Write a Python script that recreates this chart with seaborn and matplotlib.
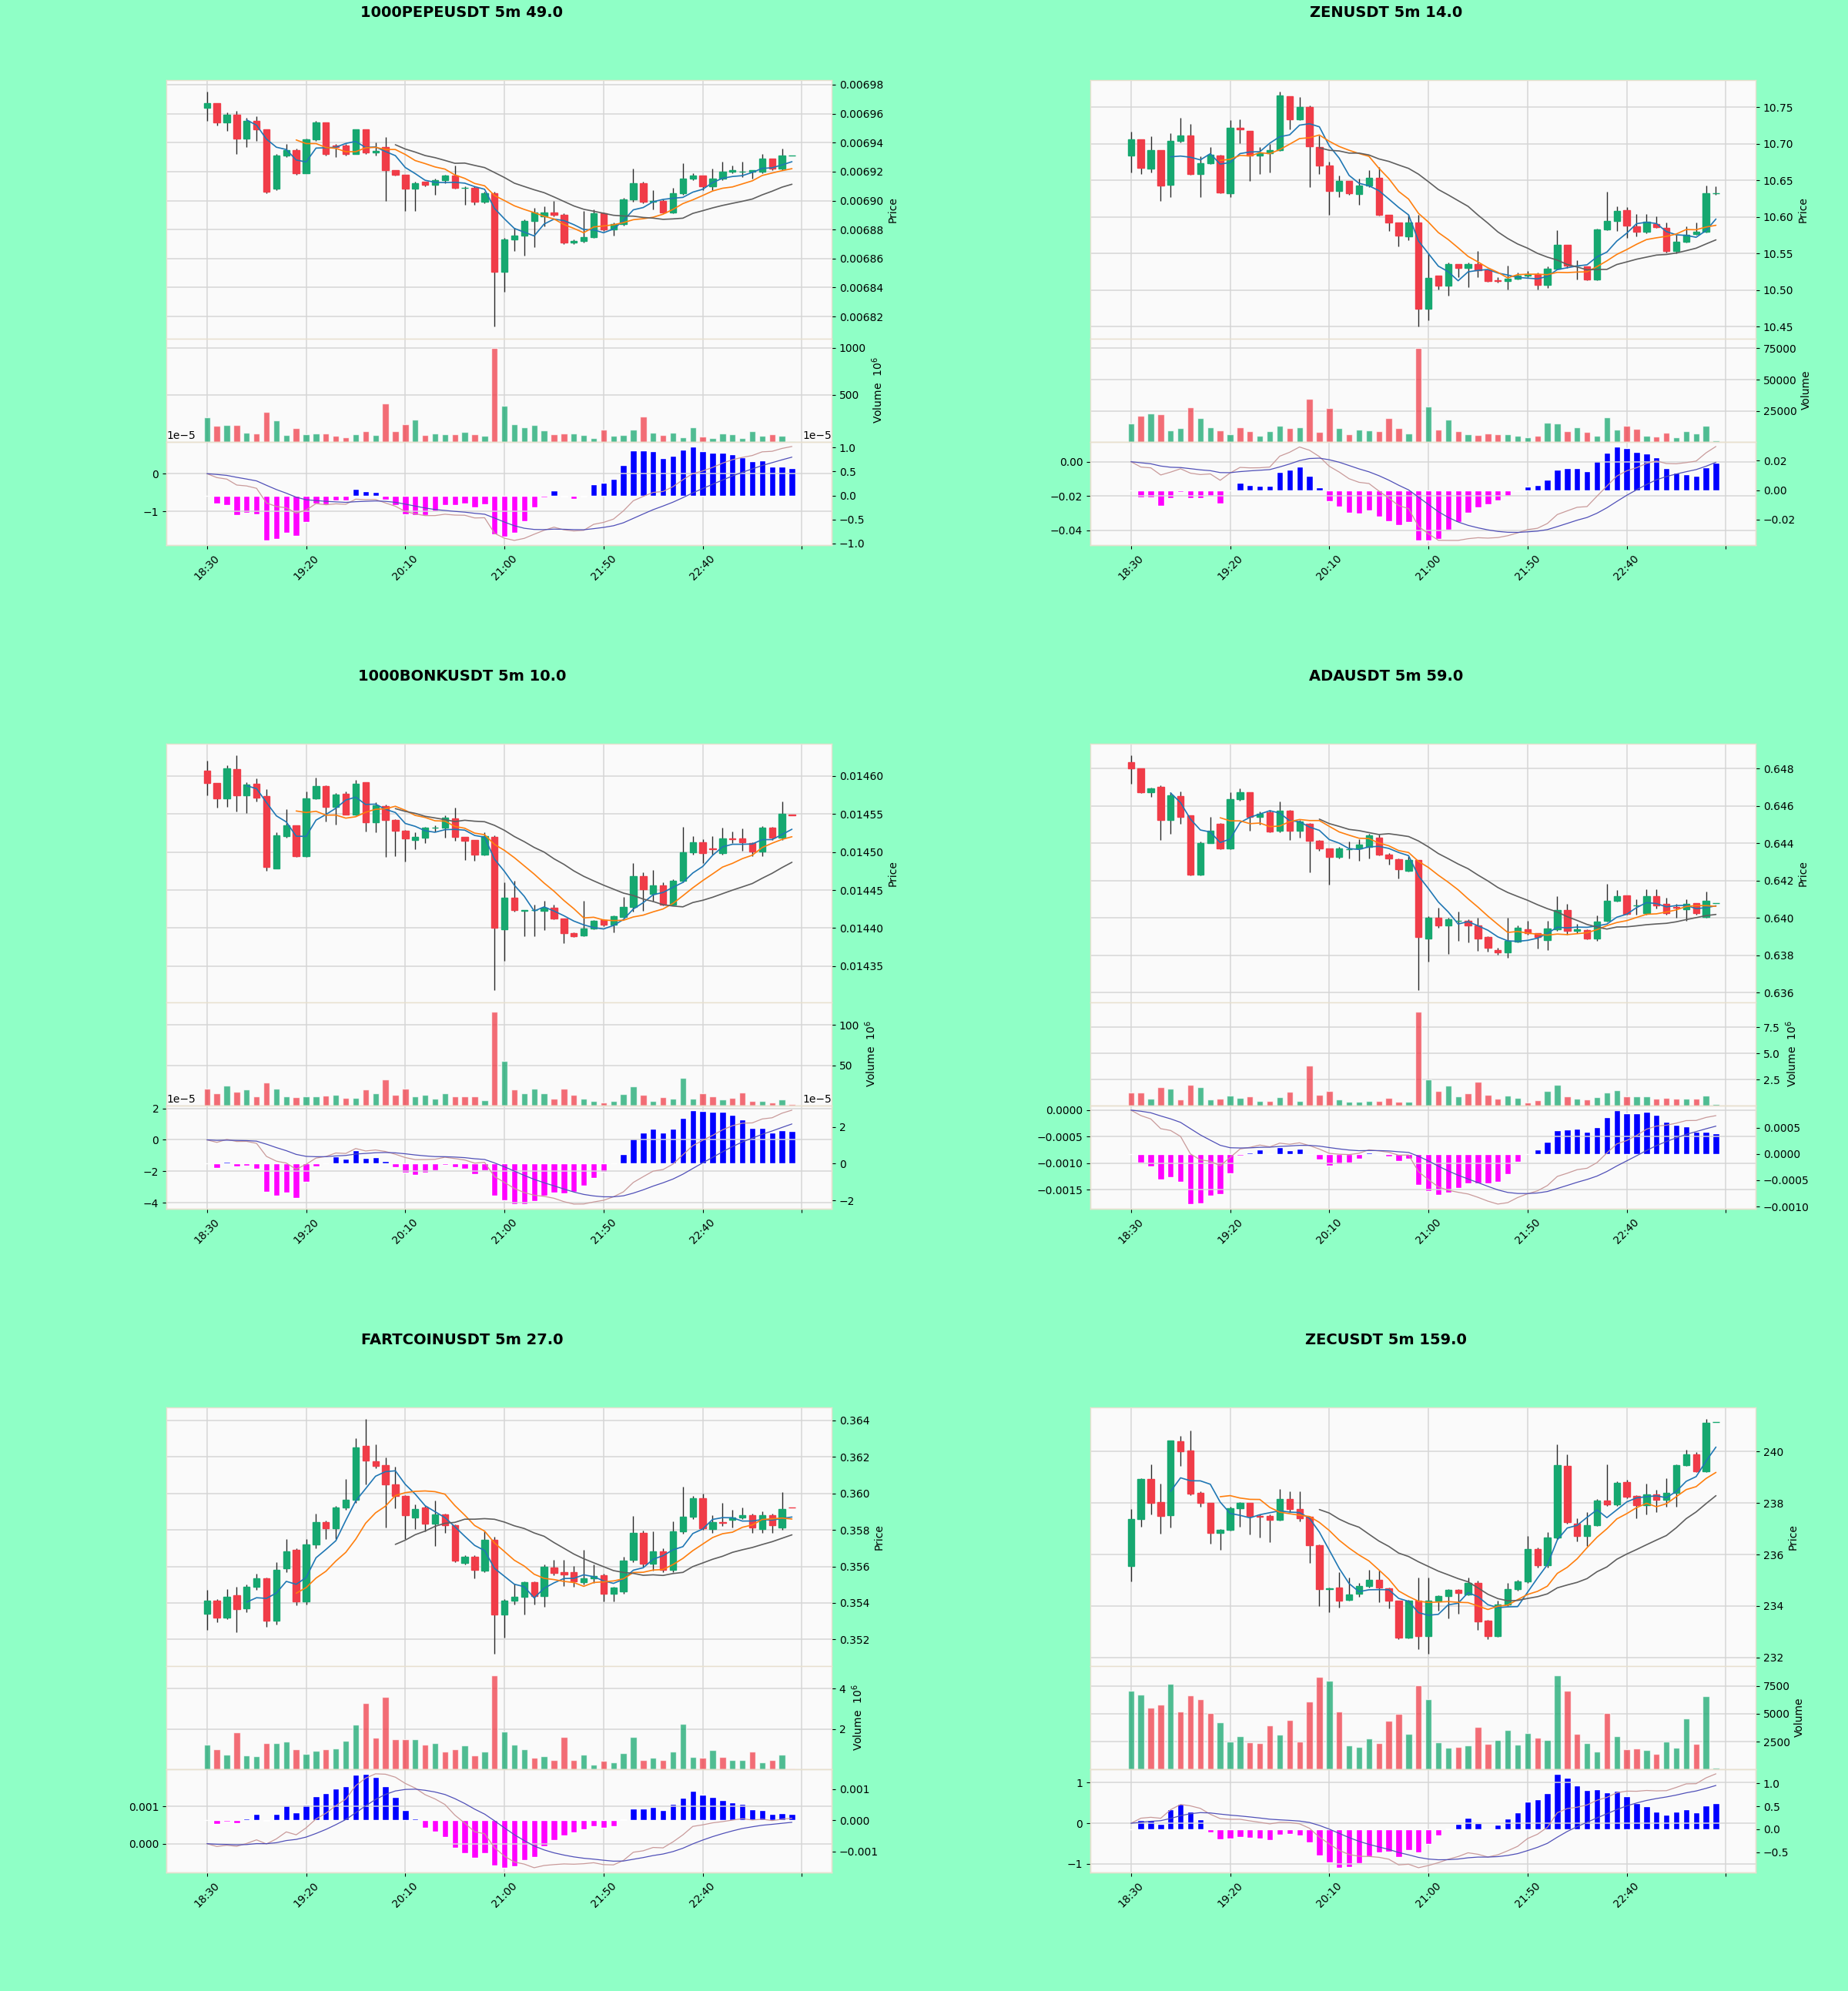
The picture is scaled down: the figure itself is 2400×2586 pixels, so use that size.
import numpy as np
import pandas as pd
import matplotlib
matplotlib.use("Agg")
import matplotlib.pyplot as plt
import seaborn as sns
from matplotlib.ticker import MultipleLocator

# ------------------------------------------------------------------ data
symbols = ["1000PEPEUSDT", "ZENUSDT", "1000BONKUSDT", "ADAUSDT", "FARTCOINUSDT", "ZECUSDT"]
scores = [49.0, 14.0, 10.0, 59.0, 27.0, 159.0]
tick_labels = ["18:30", "19:20", "20:10", "21:00", "21:50", "22:40", ""]

pepe_open = [0.006964, 0.006967, 0.006954, 0.006959, 0.006943, 0.006955, 0.006949, 0.006908, 0.006931, 0.006935,
             0.006919, 0.006942, 0.006954, 0.006938, 0.006938, 0.006932, 0.006949, 0.006933, 0.006937, 0.006921,
             0.006918, 0.006908, 0.006913, 0.006911, 0.006914, 0.006917, 0.006909, 0.006909, 0.006899, 0.006905,
             0.006851, 0.006873, 0.006876, 0.006886, 0.006889, 0.006892, 0.006890, 0.006871, 0.006872, 0.006875,
             0.006891, 0.006880, 0.006884, 0.006901, 0.006912, 0.006899, 0.006900, 0.006892, 0.006905, 0.006915,
             0.006917, 0.006910, 0.006915, 0.006920, 0.006920, 0.006920, 0.006920, 0.006929, 0.006922, 0.006931]
pepe_close = [0.006967, 0.006954, 0.006959, 0.006943, 0.006955, 0.006949, 0.006906, 0.006931, 0.006935, 0.006919,
              0.006942, 0.006954, 0.006932, 0.006937, 0.006932, 0.006949, 0.006933, 0.006934, 0.006921, 0.006918,
              0.006908, 0.006912, 0.006911, 0.006914, 0.006917, 0.006909, 0.006909, 0.006899, 0.006905, 0.006851,
              0.006873, 0.006876, 0.006886, 0.006892, 0.006892, 0.006890, 0.006871, 0.006872, 0.006875, 0.006891,
              0.006880, 0.006884, 0.006901, 0.006912, 0.006899, 0.006900, 0.006892, 0.006905, 0.006915, 0.006917,
              0.006910, 0.006915, 0.006920, 0.006921, 0.006920, 0.006921, 0.006929, 0.006922, 0.006931, 0.006931]
pepe_high = [0.006975, 0.006967, 0.006961, 0.006962, 0.006957, 0.006958, 0.006949, 0.006932, 0.006939, 0.006936,
             0.006943, 0.006955, 0.006954, 0.006939, 0.006939, 0.006949, 0.006949, 0.006940, 0.006944, 0.006921,
             0.006918, 0.006913, 0.006913, 0.006915, 0.006918, 0.006924, 0.006910, 0.006910, 0.006906, 0.006906,
             0.006874, 0.006881, 0.006887, 0.006895, 0.006896, 0.006900, 0.006891, 0.006873, 0.006893, 0.006894,
             0.006892, 0.006885, 0.006902, 0.006922, 0.006913, 0.006907, 0.006901, 0.006909, 0.006926, 0.006919,
             0.006917, 0.006922, 0.006927, 0.006924, 0.006927, 0.006921, 0.006932, 0.006929, 0.006936, 0.006931]
pepe_low = [0.006955, 0.006952, 0.006948, 0.006932, 0.006937, 0.006941, 0.006905, 0.006907, 0.006930, 0.006918,
            0.006919, 0.006941, 0.006931, 0.006930, 0.006931, 0.006932, 0.006932, 0.006931, 0.006900, 0.006917,
            0.006893, 0.006893, 0.006910, 0.006904, 0.006912, 0.006908, 0.006897, 0.006897, 0.006898, 0.006813,
            0.006837, 0.006865, 0.006862, 0.006868, 0.006882, 0.006889, 0.006870, 0.006870, 0.006871, 0.006874,
            0.006879, 0.006876, 0.006883, 0.006899, 0.006898, 0.006894, 0.006891, 0.006891, 0.006904, 0.006914,
            0.006907, 0.006907, 0.006914, 0.006919, 0.006916, 0.006915, 0.006919, 0.006921, 0.006921, 0.006931]
pepe_volume = [263, 173, 180, 180, 100, 90, 320, 233, 73, 150, 80, 90, 87, 63, 53, 80, 117, 73, 413, 117,
               190, 240, 73, 90, 80, 80, 107, 83, 63, 1000, 383, 187, 157, 180, 123, 83, 90, 90, 73, 40,
               130, 63, 73, 133, 273, 100, 73, 100, 50, 157, 57, 40, 90, 83, 40, 117, 63, 83, 67, 5]

zen_open = [10.684, 10.706, 10.666, 10.691, 10.644, 10.704, 10.711, 10.659, 10.673, 10.684,
            10.632, 10.722, 10.718, 10.684, 10.687, 10.691, 10.765, 10.733, 10.750, 10.696,
            10.670, 10.636, 10.649, 10.631, 10.643, 10.653, 10.603, 10.592, 10.573, 10.592,
            10.475, 10.520, 10.506, 10.536, 10.530, 10.536, 10.527, 10.513, 10.512, 10.516,
            10.520, 10.522, 10.507, 10.529, 10.562, 10.533, 10.532, 10.515, 10.583, 10.595,
            10.609, 10.587, 10.580, 10.590, 10.585, 10.553, 10.566, 10.577, 10.580, 10.632]
zen_close = [10.706, 10.667, 10.691, 10.643, 10.704, 10.711, 10.659, 10.673, 10.685, 10.633,
             10.722, 10.720, 10.684, 10.687, 10.691, 10.766, 10.733, 10.750, 10.697, 10.670,
             10.636, 10.649, 10.632, 10.643, 10.653, 10.603, 10.592, 10.574, 10.592, 10.475,
             10.517, 10.506, 10.536, 10.530, 10.536, 10.527, 10.512, 10.512, 10.516, 10.520,
             10.522, 10.507, 10.529, 10.562, 10.533, 10.534, 10.515, 10.583, 10.595, 10.608,
             10.588, 10.580, 10.593, 10.586, 10.553, 10.566, 10.576, 10.580, 10.632, 10.632]
zen_high = [10.717, 10.706, 10.710, 10.691, 10.714, 10.735, 10.727, 10.683, 10.696, 10.685,
            10.732, 10.733, 10.718, 10.696, 10.700, 10.771, 10.765, 10.764, 10.752, 10.711,
            10.676, 10.657, 10.649, 10.652, 10.664, 10.668, 10.603, 10.592, 10.603, 10.603,
            10.550, 10.520, 10.538, 10.536, 10.538, 10.553, 10.528, 10.518, 10.534, 10.524,
            10.526, 10.524, 10.532, 10.582, 10.562, 10.541, 10.532, 10.584, 10.634, 10.614,
            10.613, 10.604, 10.604, 10.601, 10.592, 10.576, 10.587, 10.592, 10.643, 10.642]
zen_low = [10.661, 10.659, 10.661, 10.622, 10.627, 10.702, 10.658, 10.627, 10.672, 10.632,
           10.627, 10.701, 10.649, 10.659, 10.661, 10.690, 10.720, 10.732, 10.641, 10.659,
           10.603, 10.627, 10.630, 10.617, 10.641, 10.602, 10.581, 10.560, 10.568, 10.450,
           10.459, 10.501, 10.492, 10.518, 10.504, 10.518, 10.511, 10.510, 10.501, 10.515,
           10.518, 10.501, 10.503, 10.528, 10.530, 10.515, 10.513, 10.513, 10.582, 10.581,
           10.571, 10.573, 10.578, 10.585, 10.551, 10.550, 10.565, 10.576, 10.579, 10.630]
zen_volume = [15300, 21400, 23300, 22200, 9600, 11200, 27900, 19400, 12000, 9600,
              6500, 12000, 8600, 5500, 8600, 13300, 11600, 12000, 34500, 8000,
              27300, 11200, 6500, 10000, 9600, 9200, 19400, 11200, 7100, 75300,
              28400, 10000, 18200, 9200, 6500, 6100, 7100, 6500, 6500, 5500,
              3900, 5500, 15700, 15300, 9200, 12000, 8000, 5500, 19800, 10000,
              13300, 10600, 5500, 4500, 7500, 3900, 9200, 7100, 13300, 1400]

bonk_open = [0.014607, 0.014591, 0.014571, 0.014609, 0.014575, 0.014590, 0.014574, 0.014478, 0.014521, 0.014535,
             0.014495, 0.014571, 0.014587, 0.014559, 0.014577, 0.014549, 0.014592, 0.014539, 0.014560, 0.014542,
             0.014528, 0.014516, 0.014519, 0.014532, 0.014532, 0.014544, 0.014520, 0.014516, 0.014497, 0.014520,
             0.014398, 0.014440, 0.014423, 0.014424, 0.014423, 0.014427, 0.014413, 0.014393, 0.014390, 0.014399,
             0.014411, 0.014404, 0.014415, 0.014428, 0.014468, 0.014445, 0.014456, 0.014431, 0.014462, 0.014500,
             0.014513, 0.014505, 0.014499, 0.014518, 0.014518, 0.014512, 0.014501, 0.014532, 0.014519, 0.014549]
bonk_close = [0.014591, 0.014571, 0.014610, 0.014575, 0.014589, 0.014572, 0.014480, 0.014522, 0.014535, 0.014495,
              0.014571, 0.014587, 0.014559, 0.014576, 0.014549, 0.014590, 0.014539, 0.014561, 0.014542, 0.014528,
              0.014518, 0.014520, 0.014532, 0.014532, 0.014545, 0.014520, 0.014515, 0.014497, 0.014521, 0.014400,
              0.014440, 0.014424, 0.014424, 0.014424, 0.014427, 0.014413, 0.014393, 0.014389, 0.014399, 0.014409,
              0.014404, 0.014416, 0.014428, 0.014468, 0.014451, 0.014456, 0.014431, 0.014462, 0.014500, 0.014513,
              0.014499, 0.014504, 0.014518, 0.014517, 0.014513, 0.014501, 0.014532, 0.014519, 0.014550, 0.014548]
bonk_high = [0.014620, 0.014591, 0.014614, 0.014627, 0.014592, 0.014597, 0.014583, 0.014526, 0.014556, 0.014535,
             0.014580, 0.014598, 0.014588, 0.014578, 0.014580, 0.014595, 0.014592, 0.014565, 0.014562, 0.014543,
             0.014529, 0.014526, 0.014533, 0.014535, 0.014548, 0.014558, 0.014520, 0.014516, 0.014526, 0.014522,
             0.014460, 0.014462, 0.014424, 0.014431, 0.014436, 0.014431, 0.014413, 0.014394, 0.014436, 0.014411,
             0.014412, 0.014417, 0.014441, 0.014485, 0.014473, 0.014476, 0.014460, 0.014464, 0.014533, 0.014521,
             0.014517, 0.014521, 0.014532, 0.014527, 0.014531, 0.014513, 0.014534, 0.014533, 0.014566, 0.014549]
bonk_low = [0.014575, 0.014558, 0.014559, 0.014553, 0.014551, 0.014566, 0.014475, 0.014478, 0.014519, 0.014494,
            0.014494, 0.014570, 0.014540, 0.014536, 0.014549, 0.014548, 0.014527, 0.014526, 0.014494, 0.014495,
            0.014487, 0.014504, 0.014512, 0.014527, 0.014519, 0.014515, 0.014490, 0.014489, 0.014496, 0.014318,
            0.014357, 0.014422, 0.014389, 0.014389, 0.014397, 0.014412, 0.014380, 0.014388, 0.014389, 0.014398,
            0.014402, 0.014394, 0.014414, 0.014422, 0.014423, 0.014435, 0.014430, 0.014430, 0.014460, 0.014497,
            0.014485, 0.014497, 0.014497, 0.014512, 0.014502, 0.014495, 0.014495, 0.014516, 0.014516, 0.014548]
bonk_volume = [21.5, 15.8, 25.3, 17.7, 19.9, 12.0, 28.5, 21.5, 11.4, 10.4, 11.4, 11.4, 12.7, 13.6, 9.5, 9.5,
               19.9, 15.8, 32.6, 13.6, 20.9, 12.0, 13.6, 8.9, 15.2, 11.4, 11.4, 11.4, 7.3, 116.5,
               55.4, 19.9, 15.8, 20.9, 15.8, 8.9, 20.9, 13.6, 8.9, 6.3, 4.1, 6.3, 14.6, 23.7, 13.6, 6.3,
               10.4, 8.9, 34.2, 8.9, 15.8, 12.0, 8.2, 9.5, 16.8, 6.3, 5.7, 4.1, 8.2, 1.9]

ada_open = [0.64837, 0.64803, 0.64674, 0.64705, 0.64524, 0.64653, 0.64550, 0.64232, 0.64404, 0.64504,
            0.64374, 0.64637, 0.64674, 0.64544, 0.64565, 0.64470, 0.64574, 0.64470, 0.64506, 0.64415,
            0.64374, 0.64327, 0.64370, 0.64374, 0.64380, 0.64430, 0.64340, 0.64316, 0.64252, 0.64313,
            0.63892, 0.64003, 0.63960, 0.63987, 0.63987, 0.63962, 0.63898, 0.63830, 0.63817, 0.63875,
            0.63939, 0.63919, 0.63881, 0.63940, 0.64044, 0.63932, 0.63935, 0.63892, 0.63987, 0.64093,
            0.64123, 0.64068, 0.64028, 0.64116, 0.64075, 0.64060, 0.64048, 0.64079, 0.64007, 0.64079]
ada_close = [0.64803, 0.64674, 0.64694, 0.64524, 0.64656, 0.64544, 0.64232, 0.64404, 0.64470, 0.64374,
             0.64637, 0.64674, 0.64544, 0.64558, 0.64463, 0.64574, 0.64470, 0.64517, 0.64415, 0.64374,
             0.64327, 0.64374, 0.64370, 0.64395, 0.64442, 0.64340, 0.64320, 0.64261, 0.64310, 0.63898,
             0.64003, 0.63960, 0.63994, 0.63987, 0.63962, 0.63892, 0.63840, 0.63817, 0.63880, 0.63949,
             0.63919, 0.63898, 0.63946, 0.64044, 0.63932, 0.63940, 0.63892, 0.63983, 0.64093, 0.64116,
             0.64021, 0.64069, 0.64116, 0.64068, 0.64028, 0.64055, 0.64075, 0.64028, 0.64093, 0.64079]
ada_high = [0.64871, 0.64803, 0.64700, 0.64710, 0.64674, 0.64680, 0.64550, 0.64410, 0.64544, 0.64510,
            0.64674, 0.64694, 0.64674, 0.64570, 0.64579, 0.64626, 0.64580, 0.64524, 0.64510, 0.64420,
            0.64374, 0.64380, 0.64410, 0.64422, 0.64450, 0.64449, 0.64350, 0.64320, 0.64330, 0.64313,
            0.64010, 0.64055, 0.64000, 0.64035, 0.63995, 0.64000, 0.63905, 0.63840, 0.64000, 0.63960,
            0.63987, 0.63920, 0.63987, 0.64116, 0.64075, 0.63970, 0.63940, 0.64015, 0.64184, 0.64150,
            0.64123, 0.64100, 0.64153, 0.64153, 0.64110, 0.64075, 0.64100, 0.64080, 0.64143, 0.64079]
ada_low = [0.64721, 0.64670, 0.64650, 0.64420, 0.64450, 0.64504, 0.64230, 0.64230, 0.64400, 0.64370,
           0.64370, 0.64630, 0.64470, 0.64500, 0.64460, 0.64460, 0.64420, 0.64429, 0.64245, 0.64360,
           0.64180, 0.64320, 0.64320, 0.64306, 0.64320, 0.64334, 0.64286, 0.64211, 0.64250, 0.63613,
           0.63769, 0.63950, 0.63810, 0.63878, 0.63870, 0.63824, 0.63820, 0.63803, 0.63789, 0.63870,
           0.63910, 0.63837, 0.63830, 0.63930, 0.63910, 0.63919, 0.63885, 0.63880, 0.63980, 0.64090,
           0.64020, 0.64020, 0.64020, 0.64050, 0.64020, 0.64000, 0.63987, 0.64020, 0.64000, 0.64079]
ada_volume = [1.26, 1.26, 0.72, 1.81, 1.69, 0.60, 2.05, 1.81, 0.60, 0.72, 0.97, 0.77, 0.89, 0.48, 0.48,
              0.85, 1.33, 0.48, 3.82, 1.09, 1.40, 0.65, 0.43, 0.43, 0.48, 0.48, 0.80, 0.43, 0.43, 8.99,
              2.54, 1.40, 1.93, 0.92, 1.21, 2.29, 1.09, 0.72, 0.97, 0.77, 0.36, 0.53, 1.40, 2.05, 0.92,
              0.72, 0.60, 0.85, 1.26, 1.50, 0.92, 0.92, 0.92, 0.72, 0.77, 0.68, 0.72, 0.72, 1.01, 0.19]

fart_open = [0.35340, 0.35414, 0.35320, 0.35440, 0.35370, 0.35488, 0.35535, 0.35302, 0.35590, 0.35693,
             0.35407, 0.35721, 0.35843, 0.35810, 0.35924, 0.35964, 0.36260, 0.36176, 0.36155, 0.36050,
             0.35987, 0.35868, 0.35924, 0.35833, 0.35885, 0.35826, 0.35619, 0.35652, 0.35575, 0.35745,
             0.35337, 0.35414, 0.35435, 0.35514, 0.35438, 0.35592, 0.35568, 0.35568, 0.35512, 0.35535,
             0.35550, 0.35451, 0.35463, 0.35635, 0.35784, 0.35614, 0.35684, 0.35582, 0.35791, 0.35871,
             0.35973, 0.35805, 0.35843, 0.35854, 0.35868, 0.35882, 0.35805, 0.35882, 0.35812, 0.35922]
fart_close = [0.35414, 0.35320, 0.35435, 0.35365, 0.35488, 0.35535, 0.35302, 0.35582, 0.35684, 0.35407,
              0.35721, 0.35843, 0.35810, 0.35924, 0.35964, 0.36253, 0.36179, 0.36151, 0.36050, 0.35987,
              0.35882, 0.35913, 0.35833, 0.35885, 0.35826, 0.35631, 0.35652, 0.35582, 0.35745, 0.35337,
              0.35414, 0.35435, 0.35514, 0.35438, 0.35600, 0.35563, 0.35554, 0.35519, 0.35535, 0.35547,
              0.35451, 0.35484, 0.35631, 0.35784, 0.35614, 0.35684, 0.35582, 0.35791, 0.35871, 0.35973,
              0.35810, 0.35843, 0.35840, 0.35868, 0.35882, 0.35812, 0.35882, 0.35826, 0.35913, 0.35921]
fart_high = [0.35470, 0.35420, 0.35477, 0.35490, 0.35502, 0.35560, 0.35540, 0.35624, 0.35749, 0.35700,
             0.35750, 0.35889, 0.35850, 0.35930, 0.36078, 0.36302, 0.36407, 0.36267, 0.36197, 0.36148,
             0.35990, 0.35940, 0.35930, 0.35959, 0.35890, 0.35830, 0.35660, 0.35660, 0.35791, 0.35763,
             0.35420, 0.35505, 0.35520, 0.35520, 0.35610, 0.35638, 0.35638, 0.35603, 0.35693, 0.35610,
             0.35560, 0.35490, 0.35652, 0.35875, 0.35798, 0.35791, 0.35700, 0.35847, 0.36036, 0.35985,
             0.36000, 0.35882, 0.35950, 0.35910, 0.35924, 0.35890, 0.35903, 0.35890, 0.36008, 0.35922]
fart_low = [0.35253, 0.35295, 0.35310, 0.35239, 0.35350, 0.35470, 0.35267, 0.35280, 0.35570, 0.35386,
            0.35393, 0.35700, 0.35749, 0.35749, 0.35910, 0.35950, 0.36050, 0.36140, 0.35812, 0.35920,
            0.35749, 0.35805, 0.35791, 0.35714, 0.35784, 0.35624, 0.35610, 0.35533, 0.35570, 0.35120,
            0.35211, 0.35393, 0.35337, 0.35393, 0.35379, 0.35550, 0.35491, 0.35490, 0.35500, 0.35510,
            0.35407, 0.35407, 0.35450, 0.35625, 0.35600, 0.35575, 0.35570, 0.35570, 0.35780, 0.35860,
            0.35800, 0.35784, 0.35820, 0.35812, 0.35860, 0.35784, 0.35784, 0.35784, 0.35800, 0.35921]
fart_volume = [1.21, 0.99, 0.73, 1.85, 0.69, 0.63, 1.31, 1.31, 1.37, 1.01, 0.78, 0.92, 1.01, 1.04, 1.42,
               2.23, 3.29, 1.55, 3.58, 1.50, 1.50, 1.50, 1.24, 1.29, 0.86, 1.01, 1.18, 0.69, 0.88, 4.67,
               1.88, 1.23, 0.99, 0.56, 0.65, 0.46, 1.62, 0.44, 0.73, 0.21, 0.41, 0.35, 0.82, 1.59, 0.47,
               0.56, 0.47, 0.88, 2.27, 0.60, 0.56, 0.97, 0.60, 0.44, 0.46, 0.86, 0.35, 0.46, 0.72, 0.02]

zec_open = [235.54, 237.38, 238.94, 238.03, 237.54, 240.40, 240.05, 238.40, 238.00, 236.85,
            236.97, 237.81, 238.00, 237.51, 237.51, 237.34, 238.17, 237.76, 237.46, 236.36,
            234.65, 234.70, 234.25, 234.47, 234.78, 235.02, 234.68, 234.20, 232.77, 234.20,
            232.82, 234.20, 234.38, 234.62, 234.45, 234.89, 233.43, 232.82, 234.05, 234.65,
            234.94, 236.20, 235.58, 236.65, 239.44, 237.20, 236.72, 237.14, 238.10, 237.95,
            238.80, 238.27, 237.93, 238.33, 238.12, 238.40, 239.47, 239.90, 239.24, 241.14]
zec_close = [237.38, 238.94, 238.02, 237.51, 240.42, 240.01, 238.37, 238.00, 236.85, 236.95,
             237.81, 238.00, 237.51, 237.46, 237.34, 238.17, 237.76, 237.41, 236.36, 234.65,
             234.67, 234.22, 234.45, 234.78, 235.02, 234.70, 234.20, 232.77, 234.20, 232.82,
             234.20, 234.38, 234.62, 234.50, 234.89, 233.41, 232.82, 234.05, 234.65, 234.94,
             236.20, 235.58, 236.65, 239.46, 237.25, 236.72, 237.14, 238.10, 237.95, 238.77,
             238.25, 237.93, 238.33, 238.12, 238.40, 239.47, 239.90, 239.24, 241.12, 241.14]
zec_high = [237.76, 238.95, 239.49, 238.75, 240.44, 240.62, 240.82, 238.45, 238.00, 236.98,
            237.85, 238.05, 238.02, 237.56, 237.56, 238.54, 238.45, 238.45, 237.50, 236.40,
            234.70, 235.30, 235.09, 234.90, 235.40, 235.36, 234.70, 234.20, 234.25, 235.09,
            235.09, 234.40, 234.65, 234.65, 235.09, 234.99, 233.45, 234.20, 234.90, 235.00,
            236.72, 236.28, 236.87, 240.28, 239.88, 237.41, 237.66, 238.15, 239.49, 238.84,
            238.90, 238.30, 238.75, 238.50, 238.97, 239.50, 240.08, 239.98, 241.26, 241.14]
zec_low = [234.94, 237.07, 237.56, 236.82, 237.05, 239.44, 238.30, 237.85, 236.42, 236.18,
           236.92, 237.07, 236.77, 236.67, 236.47, 237.31, 237.66, 237.30, 235.68, 234.00,
           233.76, 233.95, 234.20, 234.35, 234.70, 234.15, 233.90, 232.70, 232.75, 232.33,
           232.13, 233.81, 233.51, 233.70, 234.40, 233.07, 232.72, 232.80, 234.00, 234.60,
           234.90, 235.48, 235.50, 236.60, 237.20, 236.52, 236.33, 237.10, 237.90, 237.90,
           238.20, 237.41, 237.56, 237.66, 237.85, 237.85, 239.44, 239.19, 239.20, 241.14]
zec_volume = [7040, 6700, 5560, 5810, 7680, 5220, 6660, 6310, 5100, 4260, 2550, 3000, 2430, 2390, 3980,
              3160, 4420, 2500, 6130, 8320, 7960, 5220, 2200, 2020, 2820, 2390, 4350, 5010, 3230, 7540,
              6310, 2430, 1970, 2020, 2160, 3800, 2320, 2660, 3530, 2250, 3280, 2840, 2660, 8460, 7070,
              3230, 2360, 1630, 5100, 3000, 1810, 1880, 1790, 1400, 2500, 1970, 4600, 2320, 6590, 150]

# ------------------------------------------------------------------ style
UP, DOWN = "#16a870", "#f03c48"
MA_COLORS = ["#1f77b4", "#ff7f0e", "#5f5f5f"]
BG = "#8fffc6"

sns.set_theme(style="whitegrid", rc={
    "axes.facecolor": "#fafafa", "axes.edgecolor": "#e8e0cf", "axes.linewidth": 1.0,
    "grid.color": "#d6d6d6", "grid.linewidth": 1.1,
    "font.size": 10, "xtick.labelsize": 10, "ytick.labelsize": 10, "axes.labelsize": 10,
    "text.color": "black", "axes.labelcolor": "black", "xtick.color": "black", "ytick.color": "black",
    "xtick.bottom": True, "ytick.left": True, "xtick.major.size": 3.5, "ytick.major.size": 3.5,
    "xtick.major.width": 0.8, "ytick.major.width": 0.8,
})
plt.rcParams["font.family"] = ["DejaVu Sans"]

W, H = 2400, 2586
fig = plt.figure(figsize=(W / 100, H / 100), dpi=100, facecolor=BG)


def rect(x0, y0, w, h):
    return [x0 / W, 1 - (y0 + h) / H, w / W, h / H]


panels = [
    dict(o=pepe_open, h=pepe_high, l=pepe_low, c=pepe_close, v=pepe_volume,
         pstep=0.00002, vstep=500, vlab="Volume  $10^{6}$", lstep=1e-5, rstep=0.5e-5),
    dict(o=zen_open, h=zen_high, l=zen_low, c=zen_close, v=zen_volume,
         pstep=0.05, vstep=25000, vlab="Volume", lstep=0.02, rstep=0.02),
    dict(o=bonk_open, h=bonk_high, l=bonk_low, c=bonk_close, v=bonk_volume,
         pstep=0.00005, vstep=50, vlab="Volume  $10^{6}$", lstep=2e-5, rstep=2e-5),
    dict(o=ada_open, h=ada_high, l=ada_low, c=ada_close, v=ada_volume,
         pstep=0.002, vstep=2.5, vlab="Volume  $10^{6}$", lstep=0.0005, rstep=0.0005),
    dict(o=fart_open, h=fart_high, l=fart_low, c=fart_close, v=fart_volume,
         pstep=0.002, vstep=2, vlab="Volume  $10^{6}$", lstep=0.001, rstep=0.001),
    dict(o=zec_open, h=zec_high, l=zec_low, c=zec_close, v=zec_volume,
         pstep=2, vstep=2500, vlab="Volume", lstep=1, rstep=0.5),
]

for k, p in enumerate(panels):
    col, row = k % 2, k // 2
    left, top = 216 + 1200 * col, 104 + 862 * row
    o, hi, lo, c, v = (np.array(p[n], dtype=float) for n in ("o", "h", "l", "c", "v"))
    x = np.arange(len(c))
    colors = np.where(c >= o, UP, DOWN)

    ax_p = fig.add_axes(rect(left, top, 864, 335.6))
    ax_v = fig.add_axes(rect(left, top + 335.6, 864, 134.2), sharex=ax_p)
    ax_m = fig.add_axes(rect(left, top + 469.8, 864, 134.2), sharex=ax_p)
    ax_l = ax_m.twinx()

    # candles + moving averages
    ax_p.vlines(x, lo, hi, color="#2b2b2b", lw=1.0, zorder=2)
    ax_p.bar(x, np.abs(c - o), bottom=np.minimum(o, c), width=0.65,
             color=colors, edgecolor=colors, linewidth=1.0, zorder=3)
    closes = pd.Series(c)
    for w, mc in zip((5, 10, 20), MA_COLORS):
        sns.lineplot(x=x, y=closes.rolling(w).mean().values, ax=ax_p, color=mc,
                     linewidth=1.2, legend=False, zorder=4)
    pad = 0.05 * (hi.max() - lo.min())
    ax_p.set_ylim(lo.min() - pad, hi.max() + pad)
    ax_p.yaxis.set_major_locator(MultipleLocator(p["pstep"]))
    ax_p.ticklabel_format(axis="y", useOffset=False)
    ax_p.yaxis.tick_right()
    ax_p.yaxis.set_label_position("right")
    ax_p.set_ylabel("Price")

    # volume
    ax_v.bar(x, v, width=0.65, color=colors, alpha=0.75, zorder=3)
    ax_v.set_ylim(0.3 * v.min(), 1.1 * v.max())
    ax_v.yaxis.set_major_locator(MultipleLocator(p["vstep"]))
    ax_v.yaxis.tick_right()
    ax_v.yaxis.set_label_position("right")
    ax_v.set_ylabel(p["vlab"])

    # MACD (DIF / DEA lines on the left scale, 2*(DIF-DEA) bars on the right)
    dif = closes.ewm(span=12, adjust=False).mean() - closes.ewm(span=26, adjust=False).mean()
    dea = dif.ewm(span=9, adjust=False).mean()
    hist = (2 * (dif - dea)).values
    ax_m.bar(x, hist, width=0.65, color=np.where(hist >= 0, "#0000ff", "#ff00ff"), zorder=3)
    ax_m.yaxis.set_major_locator(MultipleLocator(p["rstep"]))
    ax_m.yaxis.tick_right()
    ax_m.yaxis.set_offset_position("right")
    ax_m.grid(axis="y", visible=False)

    sns.lineplot(x=x, y=dif.values, ax=ax_l, color="#c99a9a", linewidth=0.9, legend=False)
    sns.lineplot(x=x, y=dea.values, ax=ax_l, color="#5050b8", linewidth=0.9, legend=False)
    ax_l.yaxis.set_major_locator(MultipleLocator(p["lstep"]))
    ax_l.yaxis.tick_left()
    ax_l.yaxis.set_label_position("left")
    ax_l.yaxis.set_offset_position("left")
    ax_l.grid(axis="x", visible=False)
    ax_l.grid(axis="y", visible=True)

    for ax in (ax_p, ax_v, ax_m, ax_l):
        ax.set_xlabel("")
    for ax in (ax_p, ax_v):
        ax.tick_params(axis="x", labelbottom=False, length=0)
    ax_m.set_xlim(-4.1, 63.0)
    ax_m.set_xticks(np.arange(0, 61, 10))
    ax_m.set_xticklabels(tick_labels, rotation=45)

    fig.text((600 + 1200 * col) / W, 1 - (16 + 862 * row) / H,
             f"{symbols[k]} 5m {scores[k]}", ha="center", va="center",
             fontsize=14, fontweight="bold")

fig.savefig("out.png", dpi=100, facecolor=BG)
